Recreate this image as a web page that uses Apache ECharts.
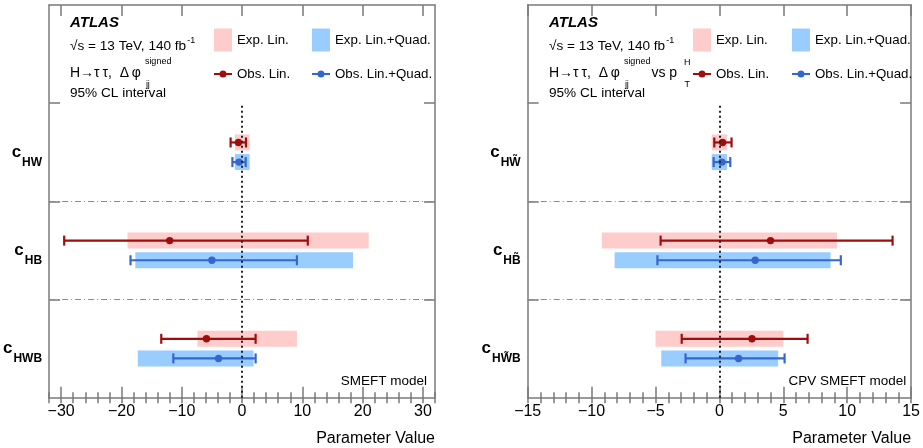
<!DOCTYPE html>
<html><head><meta charset="utf-8">
<script src="https://cdn.jsdelivr.net/npm/echarts@6/dist/echarts.min.js"></script>
<style>html,body{margin:0;padding:0;background:#fff}#c{width:923px;height:448px}</style>
</head><body><div id="c"></div>
<script>
const FONT = '"Liberation Sans", Arial, Helvetica, sans-serif';

// ---------- Left panel (SMEFT model), rows top to bottom ----------
const leftParams = ['HW', 'HB', 'HWB'];
const leftExpLinLow = [-1.2, -19.0, -7.4];
const leftExpLinHigh = [1.25, 21.0, 9.1];
const leftExpLQLow = [-1.2, -17.7, -17.3];
const leftExpLQHigh = [1.25, 18.4, 1.9];
const leftObsLinCentral = [-0.6, -12.0, -5.9];
const leftObsLinLow = [-1.9, -29.5, -13.4];
const leftObsLinHigh = [0.65, 10.9, 2.25];
const leftObsLQCentral = [-0.5, -5.0, -3.9];
const leftObsLQLow = [-1.6, -18.5, -11.4];
const leftObsLQHigh = [0.6, 9.1, 2.25];
const leftTicks = [-30, -20, -10, 0, 10, 20, 30];

// ---------- Right panel (CPV SMEFT model), rows top to bottom ----------
const rightParams = ['HW\u0303', 'HB\u0303', 'HW\u0303B'];
const rightExpLinLow = [-0.6, -9.2, -5.0];
const rightExpLinHigh = [0.6, 9.2, 5.0];
const rightExpLQLow = [-0.6, -8.2, -4.55];
const rightExpLQHigh = [0.6, 8.7, 4.6];
const rightObsLinCentral = [0.25, 4.0, 2.55];
const rightObsLinLow = [-0.4, -4.6, -2.95];
const rightObsLinHigh = [0.95, 13.55, 6.9];
const rightObsLQCentral = [0.2, 2.8, 1.5];
const rightObsLQLow = [-0.45, -4.85, -2.65];
const rightObsLQHigh = [0.85, 9.5, 5.1];
const rightTicks = [-15, -10, -5, 0, 5, 10, 15];

const COL_EXP_LIN = '#ffcccc';
const COL_EXP_LQ = '#99ccff';
const COL_OBS_LIN = '#a00d0d';
const COL_OBS_LQ = '#3566d0';
const FRAME = '#7a7a7a';

const measureCtx = document.createElement('canvas').getContext('2d');
function textW(text, size) { measureCtx.font = size + 'px ' + FONT; return measureCtx.measureText(text).width; }

function boxItem(offset) {
  return function (params, api) {
    const yv = 2.5 - api.value(2) + offset;
    const a = api.coord([api.value(0), yv]);
    const b = api.coord([api.value(1), yv]);
    return { type: 'rect', shape: { x: a[0], y: a[1] - 8, width: b[0] - a[0], height: 16 },
      style: { fill: api.visual('color') } };
  };
}
function errItem(offset) {
  return function (params, api) {
    const yv = 2.5 - api.value(3) + offset;
    const c = api.coord([api.value(0), yv]);
    const lo = api.coord([api.value(1), yv]);
    const hi = api.coord([api.value(2), yv]);
    const col = api.visual('color');
    const ls = { stroke: col, lineWidth: 2.2 };
    return { type: 'group', children: [
      { type: 'line', shape: { x1: lo[0], y1: lo[1], x2: hi[0], y2: hi[1] }, style: ls },
      { type: 'line', shape: { x1: lo[0], y1: lo[1] - 5, x2: lo[0], y2: lo[1] + 5 }, style: ls },
      { type: 'line', shape: { x1: hi[0], y1: hi[1] - 5, x2: hi[0], y2: hi[1] + 5 }, style: ls },
      { type: 'circle', shape: { cx: c[0], cy: c[1], r: 3.7 }, style: { fill: col } }
    ] };
  };
}
const fmtTick = v => (v < 0 ? '\u2212' + Math.abs(v) : String(v));

const option = { animation: false, textStyle: { fontFamily: FONT }, grid: [], xAxis: [], yAxis: [], series: [], legend: [], graphic: [] };

function addPanel(g, p) {
  option.grid.push({ left: p.left, top: 5, width: p.width, height: 392.7 });
  const xb = option.xAxis.length, yb = option.yAxis.length;
  const lineStyle = { color: FRAME, width: 1.5 };
  option.xAxis.push(
    { gridIndex: g, type: 'value', min: p.min, max: p.max, position: 'bottom',
      axisLine: { show: true, onZero: false, lineStyle },
      axisTick: { show: true, inside: true, length: 11, customValues: p.ticks, lineStyle },
      axisLabel: { show: true, customValues: p.ticks, formatter: fmtTick, fontSize: 16, color: '#000', margin: 6, fontFamily: FONT },
      splitLine: { show: false },
      name: 'Parameter Value', nameLocation: 'end', nameGap: 0,
      nameTextStyle: { fontSize: 16, color: '#000', align: 'right', verticalAlign: 'top', padding: [33, 0, 0, 0], fontFamily: FONT } },
    { gridIndex: g, type: 'value', min: p.min, max: p.max, interval: p.minor, position: 'bottom',
      axisLine: { show: false }, axisTick: { show: true, inside: true, length: 5.5, lineStyle },
      axisLabel: { show: false }, splitLine: { show: false } },
    { gridIndex: g, type: 'value', min: p.min, max: p.max, position: 'top',
      axisLine: { show: true, onZero: false, lineStyle },
      axisTick: { show: true, inside: true, length: 11, customValues: p.ticks, lineStyle },
      axisLabel: { show: false }, splitLine: { show: false } },
    { gridIndex: g, type: 'value', min: p.min, max: p.max, interval: p.minor, position: 'top',
      axisLine: { show: false }, axisTick: { show: true, inside: true, length: 5.5, lineStyle },
      axisLabel: { show: false }, splitLine: { show: false } }
  );
  option.yAxis.push(
    { gridIndex: g, type: 'value', min: 0, max: 4, position: 'left',
      axisLine: { show: true, onZero: false, lineStyle },
      axisTick: { show: true, inside: true, length: 11, customValues: [1, 2, 3], lineStyle },
      axisLabel: { show: true, customValues: [0.5, 1.5, 2.5], margin: 7, color: '#000',
        formatter: v => '{c|c}{s|' + p.params[Math.round(2.5 - v)] + '}',
        rich: { c: { fontSize: 17, fontWeight: 'bold', fontFamily: FONT, color: '#000' },
                s: { fontSize: 12, fontWeight: 'bold', fontFamily: FONT, color: '#000', padding: [21, 0, 0, 1] } } },
      splitLine: { show: false } },
    { gridIndex: g, type: 'value', min: 0, max: 4, position: 'right',
      axisLine: { show: true, onZero: false, lineStyle },
      axisTick: { show: true, inside: true, length: 11, customValues: [1, 2, 3], lineStyle },
      axisLabel: { show: false }, splitLine: { show: false } }
  );
  const idx = p.params.map((_, i) => i);
  option.series.push(
    { type: 'line', xAxisIndex: xb, yAxisIndex: yb, data: [], silent: true, z: 1,
      markLine: { silent: true, symbol: 'none', label: { show: false }, animation: false,
        data: [
          { yAxis: 1, lineStyle: { type: [6, 3, 1, 3], color: '#8a8a8a', width: 1 } },
          { yAxis: 2, lineStyle: { type: [6, 3, 1, 3], color: '#8a8a8a', width: 1 } },
          [{ coord: [0, 0], lineStyle: { type: [2, 3], color: '#222', width: 2 } }, { coord: [0, 3] }]
        ] } },
    { name: 'Exp. Lin.', type: 'custom', xAxisIndex: xb, yAxisIndex: yb, z: 2,
      itemStyle: { color: COL_EXP_LIN }, renderItem: boxItem(0.1), encode: { x: [0, 1], y: 2 },
      data: idx.map(i => [p.expLinLow[i], p.expLinHigh[i], i]) },
    { name: 'Exp. Lin.+Quad.', type: 'custom', xAxisIndex: xb, yAxisIndex: yb, z: 2,
      itemStyle: { color: COL_EXP_LQ }, renderItem: boxItem(-0.1), encode: { x: [0, 1], y: 2 },
      data: idx.map(i => [p.expLQLow[i], p.expLQHigh[i], i]) },
    { name: 'Obs. Lin.', type: 'custom', xAxisIndex: xb, yAxisIndex: yb, z: 3,
      itemStyle: { color: COL_OBS_LIN }, renderItem: errItem(0.1), encode: { x: [0, 1, 2], y: 3 },
      data: idx.map(i => [p.obsLinCentral[i], p.obsLinLow[i], p.obsLinHigh[i], i]) },
    { name: 'Obs. Lin.+Quad.', type: 'custom', xAxisIndex: xb, yAxisIndex: yb, z: 3,
      itemStyle: { color: COL_OBS_LQ }, renderItem: errItem(-0.1), encode: { x: [0, 1, 2], y: 3 },
      data: idx.map(i => [p.obsLQCentral[i], p.obsLQLow[i], p.obsLQHigh[i], i]) }
  );
  const lt = { fontSize: 13.3, color: '#000', fontFamily: FONT };
  const obsIcon = 'path://M0,3 L18,3 L18,5 L0,5 Z M12.5,4 A3.5,3.5 0 1 1 5.5,4 A3.5,3.5 0 1 1 12.5,4 Z';
  option.legend.push(
    { left: p.legX1, top: 28.5, padding: 0, itemWidth: 18, itemHeight: 23, icon: 'rect', selectedMode: false, data: ['Exp. Lin.'], textStyle: lt },
    { left: p.legX2, top: 28.5, padding: 0, itemWidth: 18, itemHeight: 23, icon: 'rect', selectedMode: false, data: ['Exp. Lin.+Quad.'], textStyle: lt },
    { left: p.legX1, top: 67.5, padding: 0, itemWidth: 18, itemHeight: 8, icon: obsIcon, selectedMode: false, data: ['Obs. Lin.'], textStyle: lt },
    { left: p.legX2, top: 67.5, padding: 0, itemWidth: 18, itemHeight: 8, icon: obsIcon, selectedMode: false, data: ['Obs. Lin.+Quad.'], textStyle: lt }
  );
  const tx = p.textX;
  const T = (text, x, y, size, extra) => Object.assign({ type: 'text', x, y, silent: true,
    style: Object.assign({ text, fill: '#000', fontSize: size, fontFamily: FONT, verticalAlign: 'middle' }, extra || {}) });
  const mainTxt = 'H\u2192\u03C4\u2009\u03C4,  \u0394\u2009\u03C6';
  const xSup = tx + textW(mainTxt, 14) + 4;
  option.graphic.push(
    T('ATLAS', tx, 23, 15, { fontWeight: 'bold', fontStyle: 'italic' }),
    T('{m|\u221As = 13 TeV, 140 fb}{u|-1}', tx, 46, 13.6, { rich: { m: { fontSize: 13.6, fontFamily: FONT }, u: { fontSize: 9, fontFamily: FONT, padding: [0, 0, 11, 1] } } }),
    T(mainTxt, tx, 73, 14),
    T('signed', xSup, 62, 9),
    T('jj', xSup + 1, 85, 9),
    T('95% CL interval', tx, 93, 13.6),
    T(p.model, p.left + p.width - 8, 381, 13.5, { align: 'right' })
  );
  if (p.vs) {
    const xVs = xSup + textW('signed', 9) + 1;
    const xH = xVs + textW('vs p', 14) + 7;
    option.graphic.push(T('vs p', xVs, 73, 14), T('H', xH, 63, 9), T('T', xH + 0.5, 85, 9));
  }
}

addPanel(0, { left: 49, width: 386, min: -32, max: 32, minor: 2, ticks: leftTicks, params: leftParams,
  expLinLow: leftExpLinLow, expLinHigh: leftExpLinHigh, expLQLow: leftExpLQLow, expLQHigh: leftExpLQHigh,
  obsLinCentral: leftObsLinCentral, obsLinLow: leftObsLinLow, obsLinHigh: leftObsLinHigh,
  obsLQCentral: leftObsLQCentral, obsLQLow: leftObsLQLow, obsLQHigh: leftObsLQHigh,
  legX1: 214, legX2: 312, textX: 70, model: 'SMEFT model', vs: false });
addPanel(1, { left: 527.7, width: 386.6, min: -15, max: 15, minor: 1, ticks: rightTicks, params: rightParams,
  expLinLow: rightExpLinLow, expLinHigh: rightExpLinHigh, expLQLow: rightExpLQLow, expLQHigh: rightExpLQHigh,
  obsLinCentral: rightObsLinCentral, obsLinLow: rightObsLinLow, obsLinHigh: rightObsLinHigh,
  obsLQCentral: rightObsLQCentral, obsLQLow: rightObsLQLow, obsLQHigh: rightObsLQHigh,
  legX1: 693, legX2: 792, textX: 549, model: 'CPV SMEFT model', vs: true });

const chart = echarts.init(document.getElementById('c'), null, { renderer: 'canvas' });
chart.setOption(option);
</script>
</body></html>
